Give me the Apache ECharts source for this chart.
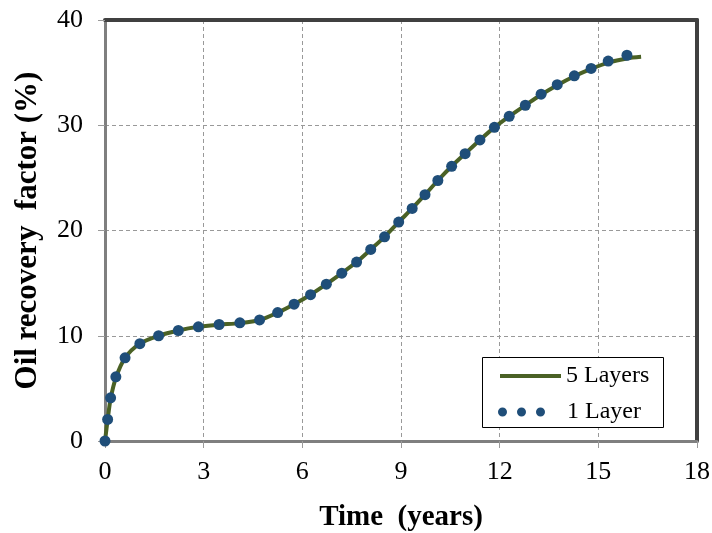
<!DOCTYPE html>
<html>
<head>
<meta charset="utf-8">
<script src="https://cdn.jsdelivr.net/npm/echarts@6/dist/echarts.min.js"></script>
<style>html,body{margin:0;padding:0;background:#fff}#c{width:712px;height:533px}</style>
</head>
<body>
<div id="c"></div>
<script>
// 5 Layers (line)
const lineX = [0,0.08,0.17,0.33,0.61,1.06,1.63,2.23,2.84,3.47,4.1,4.7,5.25,5.75,6.25,6.73,7.2,7.65,8.08,8.5,8.93,9.34,9.73,10.12,10.54,10.95,11.4,11.84,12.29,12.78,13.26,13.75,14.27,14.78,15.3,15.87,16.3];
const lineY = [0,2.0,4.0,6.0,7.9,9.25,10.0,10.5,10.85,11.05,11.2,11.5,12.2,13.0,13.9,14.9,15.95,17.0,18.2,19.4,20.8,22.1,23.4,24.75,26.1,27.3,28.6,29.8,30.85,31.9,32.9,33.8,34.65,35.35,35.95,36.35,36.5];
// 1 Layer (dots)
const dotX = [0,0.08,0.17,0.33,0.61,1.06,1.63,2.23,2.84,3.47,4.1,4.7,5.25,5.75,6.25,6.73,7.2,7.65,8.08,8.5,8.93,9.34,9.73,10.12,10.54,10.95,11.4,11.84,12.29,12.78,13.26,13.75,14.27,14.78,15.3,15.87];
const dotY = [0,2.05,4.1,6.1,7.9,9.25,10.0,10.5,10.85,11.07,11.23,11.5,12.2,13.0,13.9,14.9,15.95,17.0,18.2,19.4,20.8,22.1,23.4,24.75,26.1,27.3,28.6,29.8,30.85,31.9,32.95,33.85,34.7,35.4,36.1,36.65];
const seriesNames = ['5 Layers','1 Layer'];
const xTitle = 'Time  (years)';
const yTitle = 'Oil recovery  factor (%)';

const serif = '"Liberation Serif","DejaVu Serif",serif';
const chart = echarts.init(document.getElementById('c'));
const frameAxis = {
  type: 'value', axisLabel: {show: false}, axisTick: {show: false}, splitLine: {show: false},
  axisLine: {show: true, onZero: false, lineStyle: {color: '#404040', width: 4}}
};
chart.setOption({
  animation: false,
  backgroundColor: '#fff',
  grid: {left: 105, right: 15, top: 20, bottom: 92, containLabel: false, outerBoundsMode: 'none'},
  xAxis: [{
    type: 'value', min: 0, max: 18, interval: 3,
    name: xTitle, nameLocation: 'middle', nameGap: 62,
    nameTextStyle: {fontFamily: serif, fontSize: 29, fontWeight: 'bold', color: '#000'},
    axisLine: {show: true, onZero: false, lineStyle: {color: '#7f7f7f', width: 3}},
    axisTick: {show: true, length: 7, lineStyle: {color: '#9a9a9a', width: 1}},
    axisLabel: {fontFamily: serif, fontSize: 26, color: '#000', margin: 18},
    splitLine: {show: true, lineStyle: {color: '#999', type: [4, 3], width: 1}}
  }, Object.assign({position: 'top', min: 0, max: 18}, frameAxis)],
  yAxis: [{
    type: 'value', min: 0, max: 40, interval: 10,
    name: yTitle, nameLocation: 'middle', nameGap: 62, nameRotate: 90,
    nameTextStyle: {fontFamily: serif, fontSize: 31, fontWeight: 'bold', color: '#000'},
    axisLine: {show: true, onZero: false, lineStyle: {color: '#7f7f7f', width: 3}},
    axisTick: {show: true, length: 7, lineStyle: {color: '#9a9a9a', width: 1}},
    axisLabel: {fontFamily: serif, fontSize: 26, color: '#000', margin: 22},
    splitLine: {show: true, lineStyle: {color: '#999', type: [4, 3], width: 1}}
  }, Object.assign({position: 'right', min: 0, max: 40}, frameAxis)],
  graphic: [{
    type: 'rect', left: 482, top: 357, z: 10,
    shape: {width: 181, height: 70},
    style: {fill: '#fff', stroke: '#000', lineWidth: 1}
  }],
  legend: [{
    data: [{name: seriesNames[0], icon: 'path://M0,0H61V4H0Z'}],
    left: 500, top: 364, orient: 'vertical', z: 20, padding: 0,
    itemWidth: 61, itemHeight: 4,
    textStyle: {fontFamily: serif, fontSize: 24, color: '#000'}
  }, {
    data: [{name: seriesNames[1], icon: 'path://M0,4.5a4.5,4.5 0 1,0 9,0a4.5,4.5 0 1,0 -9,0M19,4.5a4.5,4.5 0 1,0 9,0a4.5,4.5 0 1,0 -9,0M38,4.5a4.5,4.5 0 1,0 9,0a4.5,4.5 0 1,0 -9,0'}],
    left: 498, top: 400, orient: 'vertical', z: 20, padding: 0,
    itemWidth: 47, itemHeight: 9,
    textStyle: {fontFamily: serif, fontSize: 24, color: '#000', padding: [0, 0, 0, 17]}
  }],
  series: [{
    name: seriesNames[0], type: 'line', smooth: 0.3, symbol: 'none', z: 3,
    data: lineX.map((x, i) => [x, lineY[i]]),
    lineStyle: {color: '#4A6125', width: 4},
    itemStyle: {color: '#4A6125'}
  }, {
    name: seriesNames[1], type: 'scatter', symbol: 'circle', symbolSize: 11, z: 4,
    data: dotX.map((x, i) => [x, dotY[i]]),
    itemStyle: {color: '#1F4E79', opacity: 1}
  }]
});
</script>
</body>
</html>
